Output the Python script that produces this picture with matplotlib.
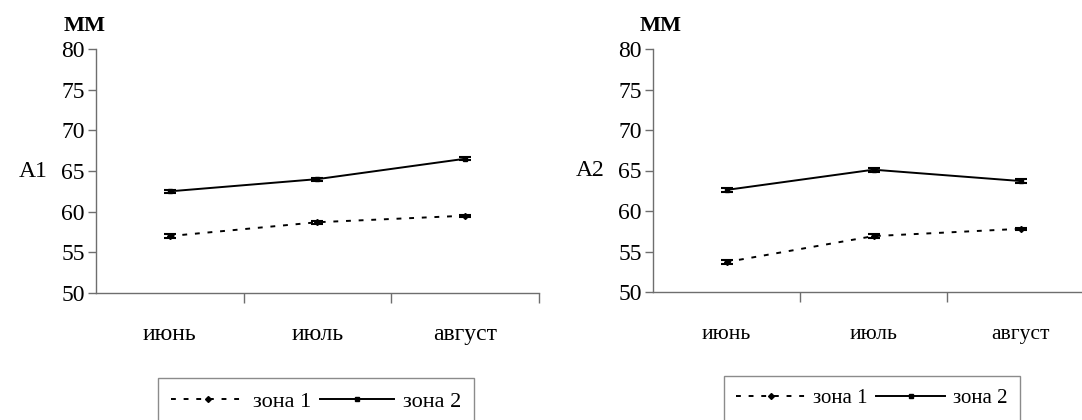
import matplotlib.pyplot as plt
from matplotlib.lines import Line2D
from matplotlib.ticker import FixedLocator

plt.rcParams['font.family'] = ['Liberation Serif', 'DejaVu Serif']

months = ["июнь", "июль", "август"]
series_names = ["зона 1", "зона 2"]

# A1
a1_zone1 = [57.0, 58.7, 59.5]
a1_zone2 = [62.5, 64.0, 66.5]
a1_zone1_err = [0.2, 0.2, 0.15]
a1_zone2_err = [0.2, 0.2, 0.2]

# A2
a2_zone1 = [53.7, 56.9, 57.8]
a2_zone2 = [62.6, 65.1, 63.7]
a2_zone1_err = [0.25, 0.2, 0.15]
a2_zone2_err = [0.2, 0.25, 0.2]

W, H = 1082, 420
fig = plt.figure(figsize=(W / 100, H / 100), dpi=100)
GREY = '#6e6e6e'


def px_axes(x0, x1, ytop, ybot):
    return fig.add_axes([x0 / W, 1 - ybot / H, (x1 - x0) / W, (ybot - ytop) / H])


def panel(ax, z1, z2, e1, e2, label, fs, lfs, mm_x, leg_center, leg_top):
    x = [i + 0.5 for i in range(len(months))]
    ax.errorbar(x, z1, yerr=e1, color='black', lw=1.4, ls=(0, (2.5, 4)),
                marker='D', ms=3, capsize=4.5, capthick=1.5, elinewidth=1.2)
    ax.errorbar(x, z2, yerr=e2, color='black', lw=1.4, ls='-',
                marker='s', ms=3.5, capsize=4.5, capthick=1.5, elinewidth=1.2)
    ax.set_xlim(0, 3)
    ax.set_ylim(50, 80)
    ax.set_yticks(range(50, 81, 5))
    ax.tick_params(axis='y', labelsize=17, length=6, width=1, color=GREY, pad=2)
    ax.xaxis.set_major_locator(FixedLocator([1, 2, 3]))
    ax.xaxis.set_minor_locator(FixedLocator(x))
    ax.set_xticklabels([], minor=False)
    ax.set_xticklabels(months, minor=True)
    ax.tick_params(axis='x', which='major', length=7, width=1, color=GREY, direction='out')
    ax.tick_params(axis='x', which='minor', length=0, labelsize=fs, pad=22 + (17 - fs) * 1.3)
    for s in ('top', 'right'):
        ax.spines[s].set_visible(False)
    for s in ('left', 'bottom'):
        ax.spines[s].set_color(GREY)
        ax.spines[s].set_linewidth(1)
    fig.text(mm_x / W, 1 - 26 / H, "ММ", fontsize=16, fontweight='bold',
             ha='center', va='center')
    ax.text(-0.11, 65, label, transform=ax.get_yaxis_transform(), fontsize=17,
            ha='right', va='center')
    handles = [
        Line2D([], [], color='black', lw=1.4, ls=(0, (2.5, 4)), marker='D', ms=3),
        Line2D([], [], color='black', lw=1.4, ls='-', marker='s', ms=3.5),
    ]
    leg = fig.legend(handles=handles, labels=series_names, ncol=2,
                     loc='upper center', bbox_to_anchor=(leg_center / W, 1 - leg_top / H),
                     fontsize=lfs, frameon=True, fancybox=False, edgecolor=GREY,
                     handlelength=3.3, handletextpad=0.4, columnspacing=0.4,
                     borderpad=0.6, borderaxespad=0)
    leg.get_frame().set_linewidth(1)


ax1 = px_axes(96, 96 + 3 * 147.5, 49, 293)
panel(ax1, a1_zone1, a1_zone2, a1_zone1_err, a1_zone2_err, "A1", 17, 16, 85, 316, 378)

ax2 = px_axes(653, 653 + 3 * 147, 49, 292)
panel(ax2, a2_zone1, a2_zone2, a2_zone1_err, a2_zone2_err, "A2", 15.5, 15, 661, 872, 376)

fig.savefig("out.png", dpi=100)
